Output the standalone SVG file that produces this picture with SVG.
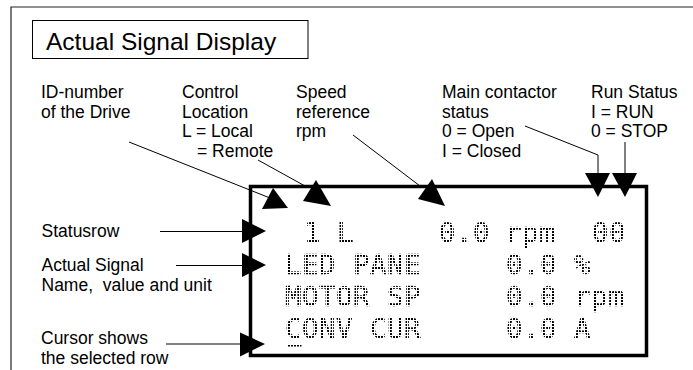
<svg xmlns="http://www.w3.org/2000/svg" width="693" height="370" viewBox="0 0 693 370">
  <style>
    .lbl { font-family: "Liberation Sans", Arial, sans-serif; font-size: 17.5px; fill: #000; }
    .title { font-family: "Liberation Sans", Arial, sans-serif; font-size: 24.5px; fill: #000; }
    .lcd { font-family: "DejaVu Sans Mono", "Liberation Mono", monospace; font-size: 27.4px; font-weight: normal; letter-spacing: 0.5px; fill: #000; stroke: #000; stroke-width: 0.6px; }
    .ln { stroke: #000; stroke-width: 1; fill: none; }
    .lng { stroke: #000; stroke-width: 1; fill: none; }
    .head { fill: #000; stroke: none; }
  </style>
  <defs>
    <pattern id="dots" width="3" height="3" patternUnits="userSpaceOnUse">
      <rect x="0" y="0" width="2" height="2" fill="#fff"/>
    </pattern>
    <mask id="dotmask" maskUnits="userSpaceOnUse" x="250" y="186" width="398" height="172">
      <rect x="250" y="186" width="398" height="172" fill="url(#dots)"/>
    </mask>
  </defs>

  <rect width="693" height="370" fill="#fff"/>

  <!-- page frame -->
  <g id="frame">
    <path d="M11 370 V7 H693" stroke="#222" stroke-width="1.2" fill="none"/>
  </g>

  <!-- title -->
  <g id="title">
    <rect x="32.5" y="20.5" width="275.5" height="38" fill="#fff" stroke="#000" stroke-width="1"/>
    <text class="title" x="46" y="49.5">Actual Signal Display</text>
  </g>

  <!-- top labels -->
  <g id="label-id">
    <text class="lbl" x="41" y="98">ID-number</text>
    <text class="lbl" x="41" y="117.5">of the Drive</text>
  </g>
  <g id="label-control">
    <text class="lbl" x="182" y="98">Control</text>
    <text class="lbl" x="182" y="117.5">Location</text>
    <text class="lbl" x="182" y="137">L = Local</text>
    <text class="lbl" x="197" y="156.5">= Remote</text>
  </g>
  <g id="label-speed">
    <text class="lbl" x="296" y="98">Speed</text>
    <text class="lbl" x="296" y="117.5">reference</text>
    <text class="lbl" x="296" y="137">rpm</text>
  </g>
  <g id="label-contactor">
    <text class="lbl" x="442" y="98">Main contactor</text>
    <text class="lbl" x="442" y="117.5">status</text>
    <text class="lbl" x="442" y="137">0 = Open</text>
    <text class="lbl" x="442" y="156.5">I = Closed</text>
  </g>
  <g id="label-run">
    <text class="lbl" x="591" y="98">Run Status</text>
    <text class="lbl" x="591" y="117.5">I = RUN</text>
    <text class="lbl" x="591" y="137">0 = STOP</text>
  </g>

  <!-- left labels -->
  <g id="label-statusrow">
    <text class="lbl" x="41.5" y="237">Statusrow</text>
  </g>
  <g id="label-signal">
    <text class="lbl" x="41.5" y="271">Actual Signal</text>
    <text class="lbl" x="41.5" y="290.5">Name,&#160; value and unit</text>
  </g>
  <g id="label-cursor">
    <text class="lbl" x="41" y="344">Cursor shows</text>
    <text class="lbl" x="41" y="363.5">the selected row</text>
  </g>

  <!-- LCD display -->
  <g id="display">
    <rect x="250.5" y="186.5" width="396" height="169" fill="#fff" stroke="#000" stroke-width="3.5"/>
    <g id="display-text" mask="url(#dotmask)">
      <text class="lcd" x="304" y="242">1</text>
      <text class="lcd" x="337" y="242">L</text>
      <text class="lcd" x="439" y="242">0.0</text>
      <text class="lcd" x="505" y="242">rpm</text>
      <text class="lcd" x="592" y="242">00</text>

      <text class="lcd" x="285" y="274">LED PANE</text>
      <text class="lcd" x="506" y="274">0.0</text>
      <text class="lcd" x="574" y="274">%</text>

      <text class="lcd" x="285" y="306">MOTOR SP</text>
      <text class="lcd" x="506" y="306">0.0</text>
      <text class="lcd" x="574" y="306">rpm</text>

      <text class="lcd" x="285" y="338">CONV CUR</text>
      <text class="lcd" x="506" y="338">0.0</text>
      <text class="lcd" x="574" y="338">A</text>

      <rect x="287" y="344" width="14.5" height="2.5" fill="#000"/>
    </g>
  </g>

  <!-- connectors -->
  <g id="connectors">
    <line class="ln" x1="129" y1="142" x2="270" y2="198"/>
    <polygon class="head" points="262,209 273,188 288,208"/>

    <line class="ln" x1="258" y1="160" x2="305" y2="186"/>
    <polygon class="head" points="303,201 316,180 331,206"/>

    <line class="ln" x1="353" y1="135" x2="420" y2="186"/>
    <polygon class="head" points="418,199 432,179 445,206"/>

    <polyline class="ln" points="525,126 598,155 598,174"/>
    <polygon class="head" points="585,173 610,173 598,197"/>

    <line class="lng" x1="625" y1="142" x2="625" y2="174"/>
    <polygon class="head" points="612,173 637,173 625,197"/>

    <line class="ln" x1="160" y1="231.5" x2="243" y2="231.5"/>
    <polygon class="head" points="242,219 242,243 266,231"/>

    <line class="ln" x1="176" y1="265.5" x2="243" y2="265.5"/>
    <polygon class="head" points="242,253 242,277 266,265"/>

    <line class="lng" x1="166" y1="344" x2="241" y2="344"/>
    <polygon class="head" points="240,332.5 240,356.5 265,344"/>
  </g>
</svg>
